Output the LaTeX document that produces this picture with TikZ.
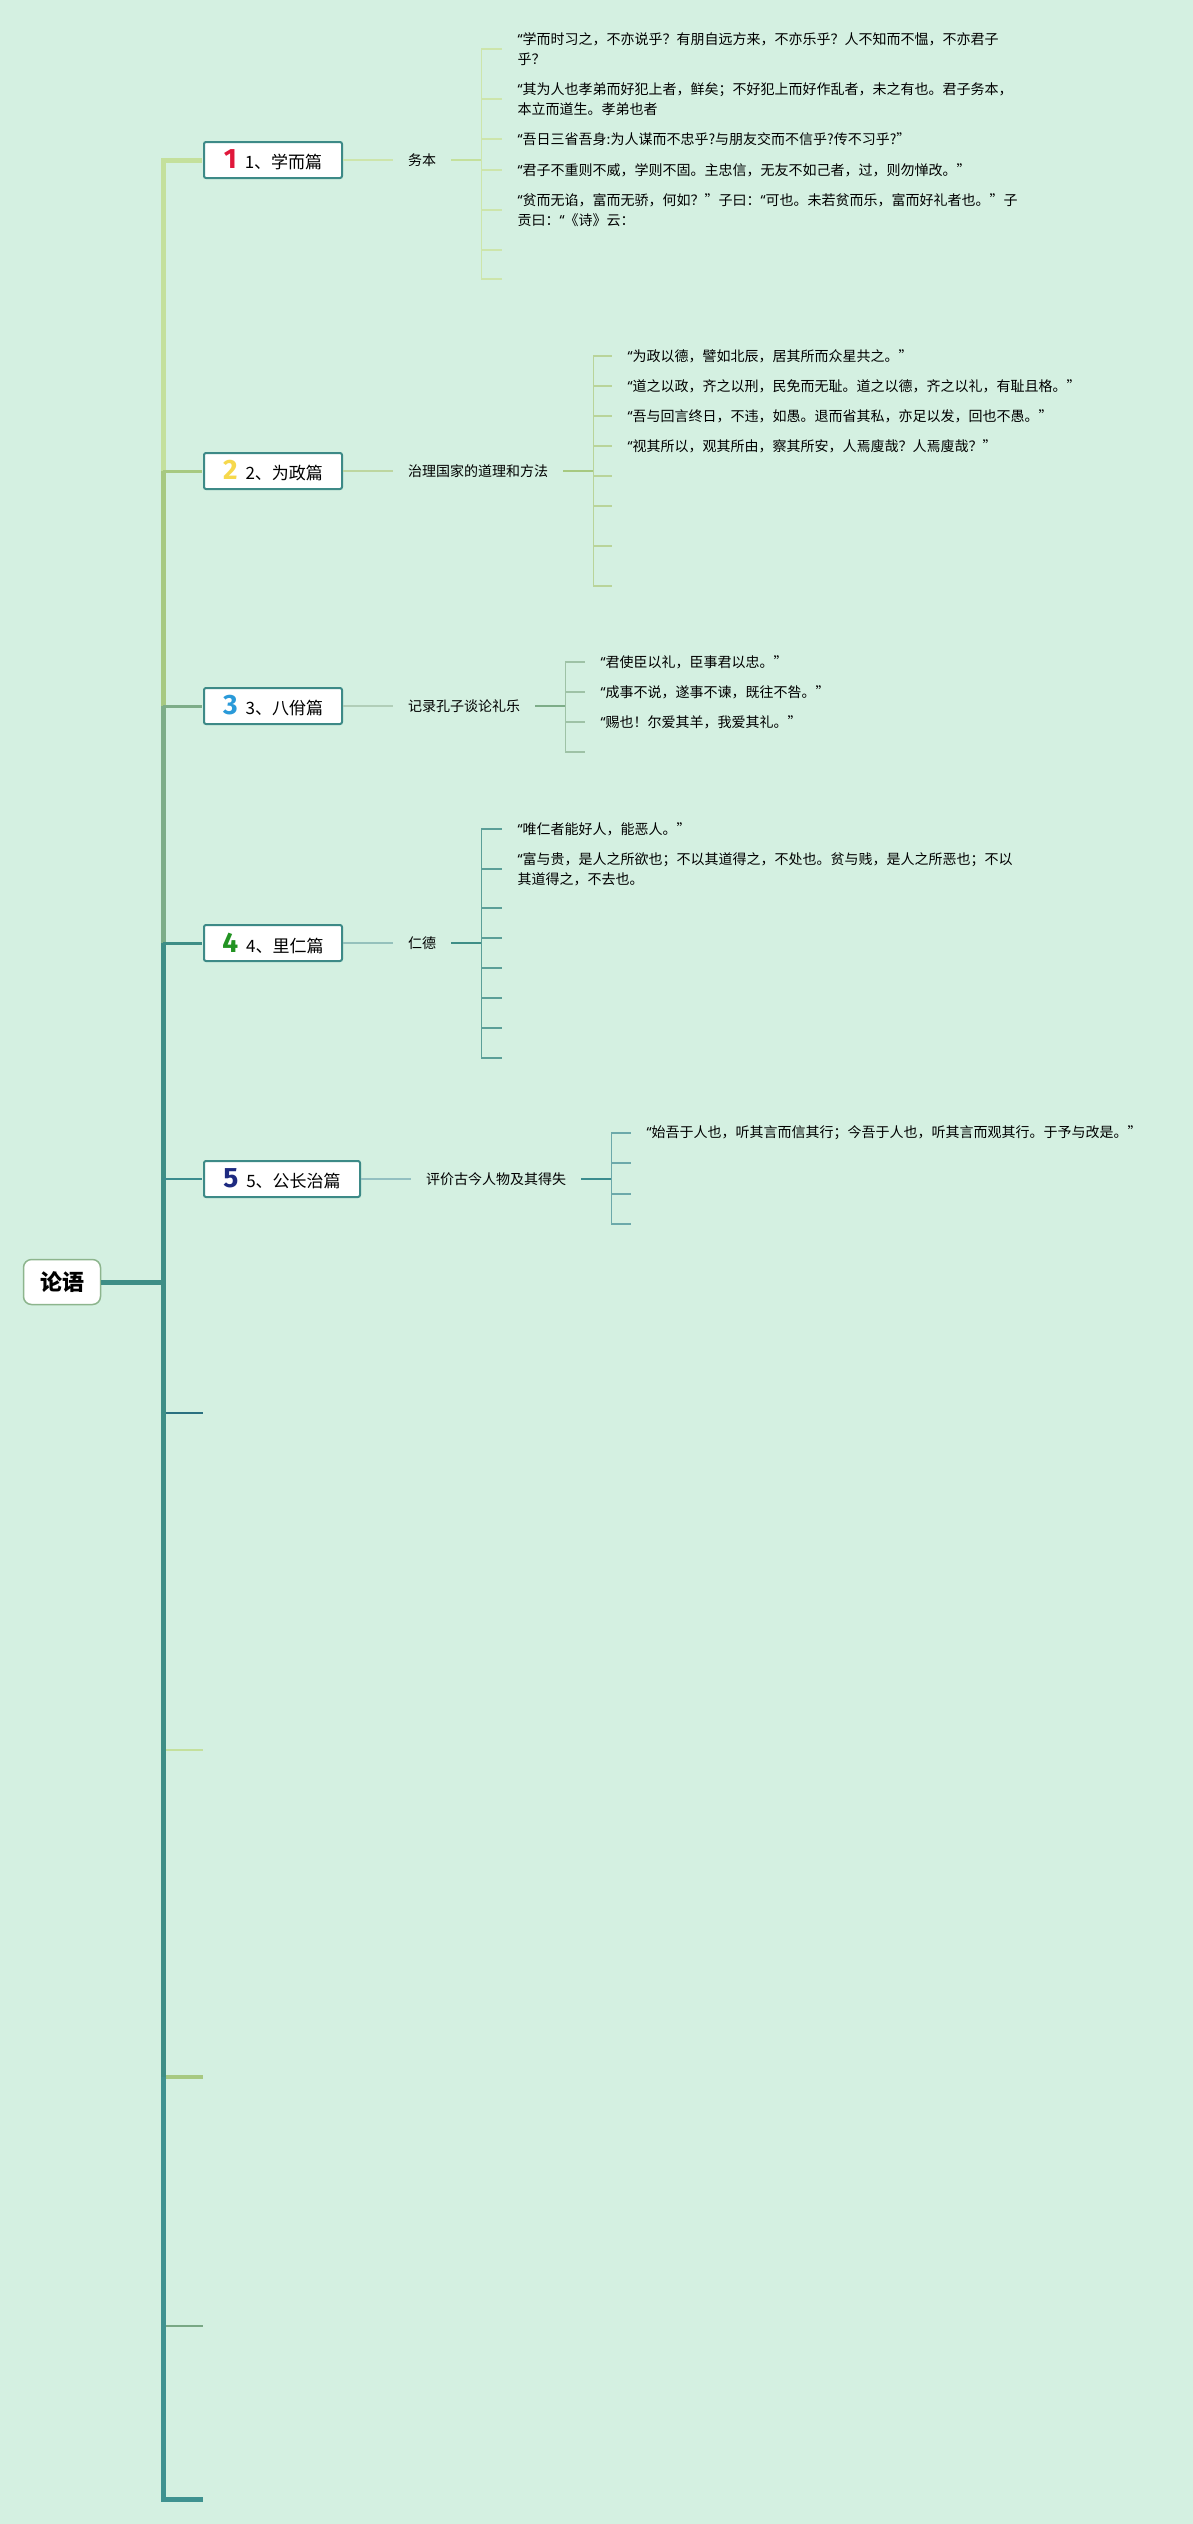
\documentclass[tikz,border=0pt]{standalone}
\usepackage{fontspec}
\setmainfont{Noto Sans CJK SC}
\newfontfamily\numfont{Fira Sans}
\newfontfamily\quotefont{Noto Sans}
\usetikzlibrary{calc, positioning}
\definecolor{lybg}{HTML}{D4F0E1}
\definecolor{lyone}{HTML}{C4E09C}
\definecolor{lytwo}{HTML}{A7C981}
\definecolor{lythree}{HTML}{7DAD88}
\definecolor{lyteal}{HTML}{3E8E86}
\definecolor{lyfive}{HTML}{3B8C8E}
\definecolor{lysix}{HTML}{2A7080}
\definecolor{lynine}{HTML}{78A884}
\definecolor{lyten}{HTML}{3F9290}
\definecolor{lyframe}{HTML}{3D8A87}
\definecolor{lyroot}{HTML}{8DB58D}
\definecolor{numred}{HTML}{E0173A}
\definecolor{numyellow}{HTML}{F6D84C}
\definecolor{numblue}{HTML}{2A9AD9}
\definecolor{numgreen}{HTML}{229322}
\definecolor{numnavy}{HTML}{1D2A80}
\newcommand{\chapnum}[2]{\textcolor{#1}{\numfont\bfseries\fontsize{28}{28}\selectfont #2}\hspace{8pt}}
\newcommand{\oq}{{\quotefont “}}

\begin{document}
\begin{tikzpicture}[x=1pt,y=-1pt,
    chapter/.style={draw=lyframe,line width=2pt,fill=white,rounded corners=2pt,minimum width=138pt,
      minimum height=36pt,inner xsep=0pt,anchor=west,font=\fontsize{17}{20}\selectfont},
    topic/.style={inner xsep=15pt,inner ysep=2pt,font=\fontsize{14}{20}\selectfont},
    saying/.style={inner xsep=15pt,inner ysep=0pt,anchor=west,align=left,font=\fontsize{14}{20}\selectfont}]
  \useasboundingbox (0,0) rectangle (1193,2524);
  \fill[lybg] (0,0) rectangle (1193,2524);

  \node[draw=lyroot,line width=1.5pt,fill=white,rounded corners=8pt,minimum width=77pt,minimum height=45pt,
    font=\fontsize{22}{24}\selectfont\bfseries] (root) at (62,1282) {论语};
  \coordinate (spine) at (163,1282);

  \node[chapter] (xue) at (203,160) {\chapnum{numred}{1}1、学而篇};
  \node[chapter] (zheng) at (203,471) {\chapnum{numyellow}{2}2、为政篇};
  \node[chapter] (yi) at (203,706) {\chapnum{numblue}{3}3、八佾篇};
  \node[chapter] (liren) at (203,943) {\chapnum{numgreen}{4}4、里仁篇};
  \node[chapter,minimum width=156pt] (gong) at (203,1179) {\chapnum{numnavy}{5}5、公长治篇};

  \draw[lyteal,line width=5pt] (root.east) -- (spine);
  \draw[lyone,line width=5pt] (spine |- zheng.west) -- (spine |- xue.west) -- ([xshift=-1pt]xue.west);
  \draw[lytwo,line width=5pt] (spine |- yi.west) -- (spine |- zheng.west);
  \draw[lytwo,line width=3pt] (spine |- zheng.west) -- ([xshift=-1pt]zheng.west);
  \draw[lythree,line width=5pt] (spine |- liren.west) -- (spine |- yi.west);
  \draw[lythree,line width=3pt] (spine |- yi.west) -- ([xshift=-1pt]yi.west);
  \draw[lyteal,line width=5pt] (spine) -- (spine |- liren.west);
  \draw[lyteal,line width=3pt] (spine |- liren.west) -- ([xshift=-1pt]liren.west);
  \draw[lyfive,line width=2.5pt] (spine |- gong.west) -- ([xshift=-1pt]gong.west);

  \foreach \y/\c/\w [count=\i from 6] in {1413/lysix/2pt, 1750/lyone/2pt, 2077/lytwo/4pt, 2326/lynine/2pt, 2499/lyten/4pt} {
    \coordinate (end\i) at (203,\y);
    \draw[\c,line width=\w] (spine |- end\i) -- (end\i);
  }
  \draw[lyteal,line width=5pt] (spine) -- (spine |- end8);
  \draw[lyten,line width=5pt] (spine |- end8) -- (spine |- end10) -- (end10);

  % 学而篇
  \node[topic,right=50pt of xue] (wuben) {务本};
  \draw[lyone!85!white,line width=1.2pt] (xue.east) -- (wuben.west);
  \draw[lyone,line width=2pt] (wuben.east) -- ++(30,0) coordinate (xv);
  \foreach \y/\t [count=\i] in {49/{\oq 学而时习之，不亦说乎？有朋自远方来，不亦乐乎？人不知而不愠，不亦君子\\乎？},
      99/{\oq 其为人也孝弟而好犯上者，鲜矣；不好犯上而好作乱者，未之有也。君子务本，\\本立而道生。孝弟也者},
      139/{\oq 吾日三省吾身:为人谋而不忠乎?与朋友交而不信乎?传不习乎?”},
      170/{\oq 君子不重则不威，学则不固。主忠信，无友不如己者，过，则勿惮改。”},
      210/{\oq 贫而无谄，富而无骄，何如？”子曰：\oq 可也。未若贫而乐，富而好礼者也。”子\\贡曰：\oq《诗》云：},
      250/{}, 279/{}} {
    \node[saying] (xq\i) at ($(xv |- 0,\y)+(21,0)$) {\t};
    \draw[lyone!85!white,line width=1.5pt] (xv |- xq\i.west) -- (xq\i.west);
  }
  \draw[lyone!85!white,line width=1.5pt] (xv |- xq1.west) -- (xv |- xq7.west);

  % 为政篇
  \node[topic,right=50pt of zheng] (zhiguo) {治理国家的道理和方法};
  \draw[lytwo!75!white,line width=1.2pt] (zheng.east) -- (zhiguo.west);
  \draw[lytwo,line width=2pt] (zhiguo.east) -- ++(30,0) coordinate (zv);
  \foreach \y/\t [count=\i] in {356/{\oq 为政以德，譬如北辰，居其所而众星共之。”},
      386/{\oq 道之以政，齐之以刑，民免而无耻。道之以德，齐之以礼，有耻且格。”},
      416/{\oq 吾与回言终日，不违，如愚。退而省其私，亦足以发，回也不愚。”},
      446/{\oq 视其所以，观其所由，察其所安，人焉廋哉？人焉廋哉？”},
      476/{}, 506/{}, 546/{}, 586/{}} {
    \node[saying] (zq\i) at ($(zv |- 0,\y)+(19,0)$) {\t};
    \draw[lytwo!80!white,line width=1.5pt] (zv |- zq\i.west) -- (zq\i.west);
  }
  \draw[lytwo!80!white,line width=1.5pt] (zv |- zq1.west) -- (zv |- zq8.west);

  % 八佾篇
  \node[topic,right=50pt of yi] (liyue) {记录孔子谈论礼乐};
  \draw[lythree!60!white,line width=1.2pt] (yi.east) -- (liyue.west);
  \draw[lythree,line width=2pt] (liyue.east) -- ++(30,0) coordinate (yv);
  \foreach \y/\t [count=\i] in {662/{\oq 君使臣以礼，臣事君以忠。”},
      692/{\oq 成事不说，遂事不谏，既往不咎。”},
      722/{\oq 赐也！尔爱其羊，我爱其礼。”}, 752/{}} {
    \node[saying] (yq\i) at ($(yv |- 0,\y)+(20,0)$) {\t};
    \draw[lythree!75!white,line width=1.5pt] (yv |- yq\i.west) -- (yq\i.west);
  }
  \draw[lythree!75!white,line width=1.5pt] (yv |- yq1.west) -- (yv |- yq4.west);

  % 里仁篇
  \node[topic,right=50pt of liren] (rende) {仁德};
  \draw[lyteal!55!white,line width=1.2pt] (liren.east) -- (rende.west);
  \draw[lyteal,line width=2pt] (rende.east) -- ++(30,0) coordinate (lv);
  \foreach \y/\t [count=\i] in {829/{\oq 唯仁者能好人，能恶人。”},
      869/{\oq 富与贵，是人之所欲也；不以其道得之，不处也。贫与贱，是人之所恶也；不以\\其道得之，不去也。},
      908/{}, 938/{}, 968/{}, 998/{}, 1028/{}, 1058/{}} {
    \node[saying] (lq\i) at ($(lv |- 0,\y)+(21,0)$) {\t};
    \draw[lyteal!85!white,line width=1.5pt] (lv |- lq\i.west) -- (lq\i.west);
  }
  \draw[lyteal!85!white,line width=1.5pt] (lv |- lq1.west) -- (lv |- lq8.west);

  % 公长治篇
  \node[topic,right=50pt of gong] (pingjia) {评价古今人物及其得失};
  \draw[lyfive!55!white,line width=1.2pt] (gong.east) -- (pingjia.west);
  \draw[lyfive,line width=2pt] (pingjia.east) -- ++(30,0) coordinate (gv);
  \foreach \y/\t [count=\i] in {1133/{\oq 始吾于人也，听其言而信其行；今吾于人也，听其言而观其行。于予与改是。”},
      1163/{}, 1194/{}, 1224/{}} {
    \node[saying] (gq\i) at ($(gv |- 0,\y)+(20,0)$) {\t};
    \draw[lyfive!75!white,line width=1.5pt] (gv |- gq\i.west) -- (gq\i.west);
  }
  \draw[lyfive!75!white,line width=1.5pt] (gv |- gq1.west) -- (gv |- gq4.west);
\end{tikzpicture}
\end{document}
